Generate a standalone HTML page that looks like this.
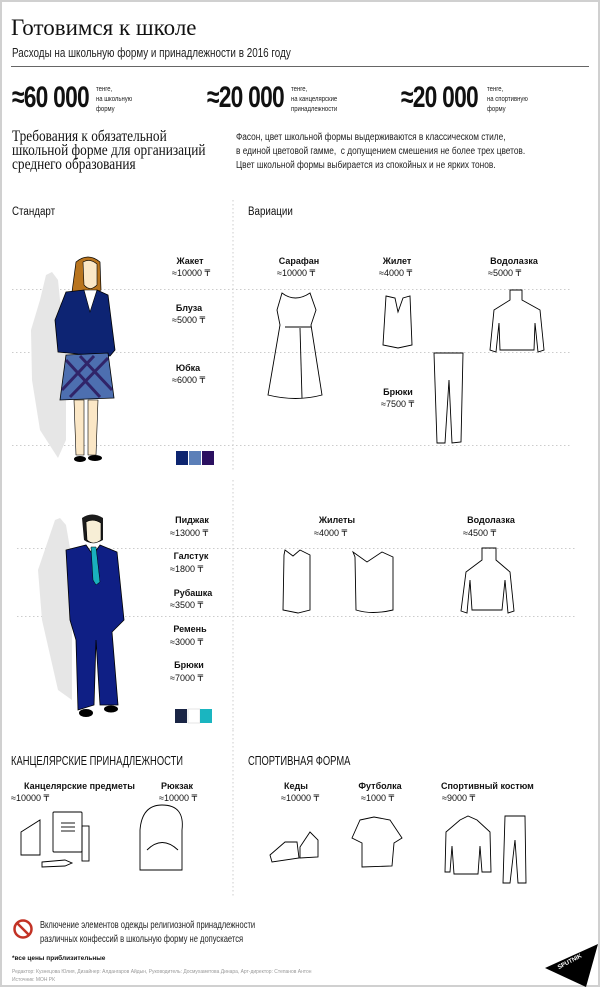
<!DOCTYPE html>
<html><head><meta charset="utf-8"><style>
*{margin:0;padding:0;box-sizing:border-box}
body{width:600px;height:987px;background:#fff;position:relative;overflow:hidden;font-family:"Liberation Sans","DejaVu Sans",sans-serif;color:#111}
.frame{position:absolute;left:0;top:0;width:600px;height:987px;border:2px solid #d0d0d0}
.a{position:absolute;white-space:nowrap;transform-origin:left top}
.serif{font-family:"Liberation Serif","DejaVu Serif",serif}
.big{font-family:"Liberation Sans Narrow","Liberation Sans",sans-serif;font-weight:bold;font-size:30px;letter-spacing:-1px;transform:scaleX(.76);transform-origin:left}
.sm{font-size:7px;line-height:10px;color:#222;transform:scaleX(.85)}
.lb{position:absolute;font-size:9px;font-weight:bold;text-align:center;width:90px;margin-left:-45px;white-space:nowrap}
.pr{position:absolute;font-size:9px;white-space:nowrap}
svg{position:absolute;left:0;top:0}
</style></head><body>
<div class="frame"></div>
<div class="a serif" style="left:11px;top:15px;font-size:23px">Готовимся к школе</div>
<div class="a" style="left:12px;top:45px;font-size:13px;color:#222;transform:scaleX(.76)">Расходы на школьную форму и принадлежности в 2016 году</div>
<div class="a" style="left:11px;top:66px;width:578px;height:1px;background:#666"></div>

<div class="a big" style="left:12px;top:81px">≈60 000</div>
<div class="a sm" style="left:96px;top:85px">тенге,<br>на школьную<br>форму</div>
<div class="a big" style="left:207px;top:81px">≈20 000</div>
<div class="a sm" style="left:291px;top:85px">тенге,<br>на канцелярские<br>принадлежности</div>
<div class="a big" style="left:401px;top:81px">≈20 000</div>
<div class="a sm" style="left:487px;top:85px">тенге,<br>на спортивную<br>форму</div>

<div class="a serif" style="left:12px;top:130px;font-size:15.5px;line-height:14px;transform:scaleX(.86)">Требования к обязательной<br>школьной форме для организаций<br>среднего образования</div>
<div class="a" style="left:236px;top:131px;font-size:10px;line-height:14px;color:#222;transform:scaleX(.83)">Фасон, цвет школьной формы выдерживаются в классическом стиле,<br>в единой цветовой гамме,&nbsp; с допущением смешения не более трех цветов.<br>Цвет школьной формы выбирается из спокойных и не ярких тонов.</div>

<div class="a" style="left:12px;top:206px;font-size:11.5px;transform:scaleX(.85)">Стандарт</div>
<div class="a" style="left:248px;top:206px;font-size:11.5px;transform:scaleX(.85)">Вариации</div>

<svg width="600" height="987" viewBox="0 0 600 987">
<g stroke="#ccc" stroke-width="1" stroke-dasharray="1.5 2.5" fill="none">
<line x1="12" y1="289.5" x2="572" y2="289.5"/>
<line x1="12" y1="352.5" x2="572" y2="352.5"/>
<line x1="12" y1="445.5" x2="572" y2="445.5"/>
<line x1="17" y1="548.5" x2="575" y2="548.5"/>
<line x1="17" y1="616.5" x2="575" y2="616.5"/>
<line x1="233" y1="200" x2="233" y2="470"/>
<line x1="233" y1="480" x2="233" y2="730"/>
<line x1="233" y1="730" x2="233" y2="898"/>
</g>
<path d="M46 275 L52 272 L58 280 L60 300 L66 320 L66 440 L58 458 L40 430 L32 380 L31 330 L40 300Z" fill="#e6e6e6"/>
<path d="M76 262 Q88 252 100 262 L101 290 Q90 298 72 292Z" fill="#b8741e" stroke="#000" stroke-width=".7"/>
<path d="M83 262 Q90 258 97 264 L97 285 Q90 292 84 285Z" fill="#fbe7c6" stroke="#000" stroke-width=".6"/>
<path d="M66 292 L84 290 L90 300 L97 290 L108 295 L115 350 L110 356 L78 354 L58 352 L55 320Z" fill="#0d2473" stroke="#000" stroke-width=".8"/>
<path d="M84 290 L90 312 L97 290Z" fill="#fff" stroke="#000" stroke-width=".6"/>
<path d="M66 355 L108 353 L114 398 L60 400Z" fill="#4d6fb0" stroke="#000" stroke-width=".8"/>
<g stroke="#2a1258" stroke-width="3" opacity=".8"><line x1="66" y1="360" x2="100" y2="397"/><line x1="80" y1="356" x2="112" y2="390"/><line x1="108" y1="358" x2="70" y2="397"/><line x1="94" y1="356" x2="62" y2="390"/></g>
<path d="M74 400 L84 400 L84 455 L76 455Z M88 400 L98 400 L96 455 L88 455Z" fill="#fbe7c6" stroke="#000" stroke-width=".6"/>
<ellipse cx="80" cy="459" rx="6" ry="3" fill="#000"/><ellipse cx="95" cy="458" rx="7" ry="3" fill="#000"/>
<rect x="176" y="451" width="12" height="14" fill="#0d2570"/><rect x="189" y="451" width="12" height="14" fill="#5b7fb8"/><rect x="202" y="451" width="12" height="14" fill="#2b1060"/>
<path d="M55 520 L60 518 L66 525 L72 560 L72 700 L58 690 L42 620 L38 570Z" fill="#e6e6e6"/>
<path d="M82 518 Q92 511 103 518 L103 540 Q92 546 84 540Z" fill="#1b1b1b"/>
<path d="M86 522 Q93 518 101 523 L101 540 Q93 546 87 540Z" fill="#f7eed6" stroke="#000" stroke-width=".6"/>
<path d="M66 550 L86 545 L93 555 L100 545 L117 552 L124 620 L112 632 L118 705 L100 705 L96 640 L94 705 L78 710 L76 640 L70 620Z" fill="#0f1f85" stroke="#000" stroke-width=".8"/>
<path d="M91 547 L96 547 L100 582 L96 585 L93 580Z" fill="#19b0bd" stroke="#000" stroke-width=".5"/>
<ellipse cx="86" cy="713" rx="7" ry="4" fill="#000"/><ellipse cx="111" cy="709" rx="7" ry="3.5" fill="#000"/>
<rect x="175" y="709" width="12" height="14" fill="#1a2545"/><rect x="188" y="709" width="12" height="14" fill="#fff" stroke="#ccc" stroke-width=".5"/><rect x="200" y="709" width="12" height="14" fill="#1ab5c0"/>
<g fill="none" stroke="#000" stroke-width="0.9">
<path d="M282 293 Q295 303 310 293 L316 310 L311 325 L322 395 Q296 402 268 395 L280 325 L277 310Z"/>
<line x1="285" y1="327" x2="311" y2="327"/><line x1="300" y1="328" x2="302" y2="398"/>
<path d="M386 296 L395 298 L398 312 L403 298 L410 296 L412 345 L398 348 L383 345Z"/>
<path d="M510 290 L522 290 L522 300 L540 310 L544 350 L538 352 L535 323 L534 350 L500 350 L499 323 L496 352 L490 350 L494 310 L510 300Z"/>
<path d="M434 353 L463 353 L461 442 L452 443 L449 380 L445 443 L437 443Z"/>
<path d="M285 550 L293 556 L300 550 L310 555 L310 610 L298 613 L283 610 L284 555Z"/>
<path d="M353 552 L367 562 L382 552 L393 557 L393 610 Q372 615 356 610 L355 557Z"/>
<path d="M482 548 L496 548 L496 560 L510 572 L514 611 L508 613 L505 580 L502 610 L472 610 L470 580 L467 613 L461 611 L466 572 L482 560Z"/>
<path d="M21 832 L40 820 L40 855 L21 855Z"/><rect x="53" y="812" width="29" height="40" rx="1"/>
<line x1="61" y1="823" x2="75" y2="823"/><line x1="61" y1="827" x2="75" y2="827"/><line x1="61" y1="831" x2="75" y2="831"/>
<rect x="82" y="826" width="7" height="35"/><path d="M42 862 L65 860 L72 863 L65 866 L42 867Z"/>
<path d="M140 830 Q142 805 162 805 Q185 805 182 830 L182 870 L140 870Z"/><path d="M147 850 Q162 835 178 850"/>
<path d="M270 855 L285 842 L297 842 L299 858 L272 862Z"/><path d="M300 847 L310 832 L318 840 L318 857 L300 858Z"/>
<path d="M360 820 L374 817 L390 820 L402 838 L394 843 L392 866 L362 867 L362 843 L352 838Z"/>
<path d="M460 820 L468 816 L477 820 L490 832 L491 872 L482 872 L480 846 L478 874 L454 874 L452 846 L450 872 L445 872 L446 832Z"/>
<path d="M505 816 L525 816 L526 883 L518 883 L515 840 L510 883 L503 883Z"/>
</g>
<circle cx="23" cy="929" r="8.5" fill="none" stroke="#c23225" stroke-width="2.5"/><line x1="17" y1="923" x2="29" y2="935" stroke="#c23225" stroke-width="2.5"/>
<path d="M598 944 L545 968 L586 987 Z" fill="#000"/>
<text x="558" y="966" fill="#fff" font-size="6" font-weight="bold" font-family="Liberation Sans" transform="rotate(-28 565 966)">SPUTNIK</text>
</svg>

<div class="lb" style="left:190px;top:256px">Жакет</div><div class="pr" style="left:172px;top:268px">≈10000 ₸</div>
<div class="lb" style="left:189px;top:303px">Блуза</div><div class="pr" style="left:172px;top:315px">≈5000 ₸</div>
<div class="lb" style="left:188px;top:363px">Юбка</div><div class="pr" style="left:172px;top:375px">≈6000 ₸</div>

<div class="lb" style="left:299px;top:256px">Сарафан</div><div class="pr" style="left:277px;top:268px">≈10000 ₸</div>
<div class="lb" style="left:397px;top:256px">Жилет</div><div class="pr" style="left:379px;top:268px">≈4000 ₸</div>
<div class="lb" style="left:514px;top:256px">Водолазка</div><div class="pr" style="left:488px;top:268px">≈5000 ₸</div>
<div class="lb" style="left:398px;top:387px">Брюки</div><div class="pr" style="left:381px;top:399px">≈7500 ₸</div>

<div class="lb" style="left:192px;top:515px">Пиджак</div><div class="pr" style="left:170px;top:528px">≈13000 ₸</div>
<div class="lb" style="left:191px;top:551px">Галстук</div><div class="pr" style="left:170px;top:564px">≈1800 ₸</div>
<div class="lb" style="left:193px;top:588px">Рубашка</div><div class="pr" style="left:170px;top:600px">≈3500 ₸</div>
<div class="lb" style="left:190px;top:624px">Ремень</div><div class="pr" style="left:170px;top:637px">≈3000 ₸</div>
<div class="lb" style="left:189px;top:660px">Брюки</div><div class="pr" style="left:170px;top:673px">≈7000 ₸</div>

<div class="lb" style="left:337px;top:515px">Жилеты</div><div class="pr" style="left:314px;top:528px">≈4000 ₸</div>
<div class="lb" style="left:491px;top:515px">Водолазка</div><div class="pr" style="left:463px;top:528px">≈4500 ₸</div>

<div class="a" style="left:11px;top:754px;font-size:12.5px;transform:scaleX(.75)">КАНЦЕЛЯРСКИЕ ПРИНАДЛЕЖНОСТИ</div>
<div class="a" style="left:248px;top:754px;font-size:12.5px;transform:scaleX(.75)">СПОРТИВНАЯ ФОРМА</div>
<div class="lb" style="left:69px;top:781px">Канцелярские предметы</div><div class="pr" style="left:11px;top:793px">≈10000 ₸</div>
<div class="lb" style="left:177px;top:781px">Рюкзак</div><div class="pr" style="left:159px;top:793px">≈10000 ₸</div>
<div class="lb" style="left:296px;top:781px">Кеды</div><div class="pr" style="left:281px;top:793px">≈10000 ₸</div>
<div class="lb" style="left:380px;top:781px">Футболка</div><div class="pr" style="left:361px;top:793px">≈1000 ₸</div>
<div class="lb" style="left:486px;top:781px">Спортивный костюм</div><div class="pr" style="left:442px;top:793px">≈9000 ₸</div>

<div class="a" style="left:40px;top:918px;font-size:10.5px;line-height:14px;color:#222;transform:scaleX(.72)">Включение элементов одежды религиозной принадлежности<br>различных конфессий в школьную форму не допускается</div>
<div class="a" style="left:12px;top:955px;font-size:6.5px;font-weight:bold">*все цены приблизительные</div>
<div class="a" style="left:12px;top:968px;font-size:5.5px;line-height:8px;color:#999;transform:scaleX(.9)">Редактор: Кузнецова Юлия, Дизайнер: Алдангаров Айдын, Руководитель: Досмухаметова Динара, Арт-директор: Степанов Антон<br>Источник: МОН РК</div>
</body></html>
